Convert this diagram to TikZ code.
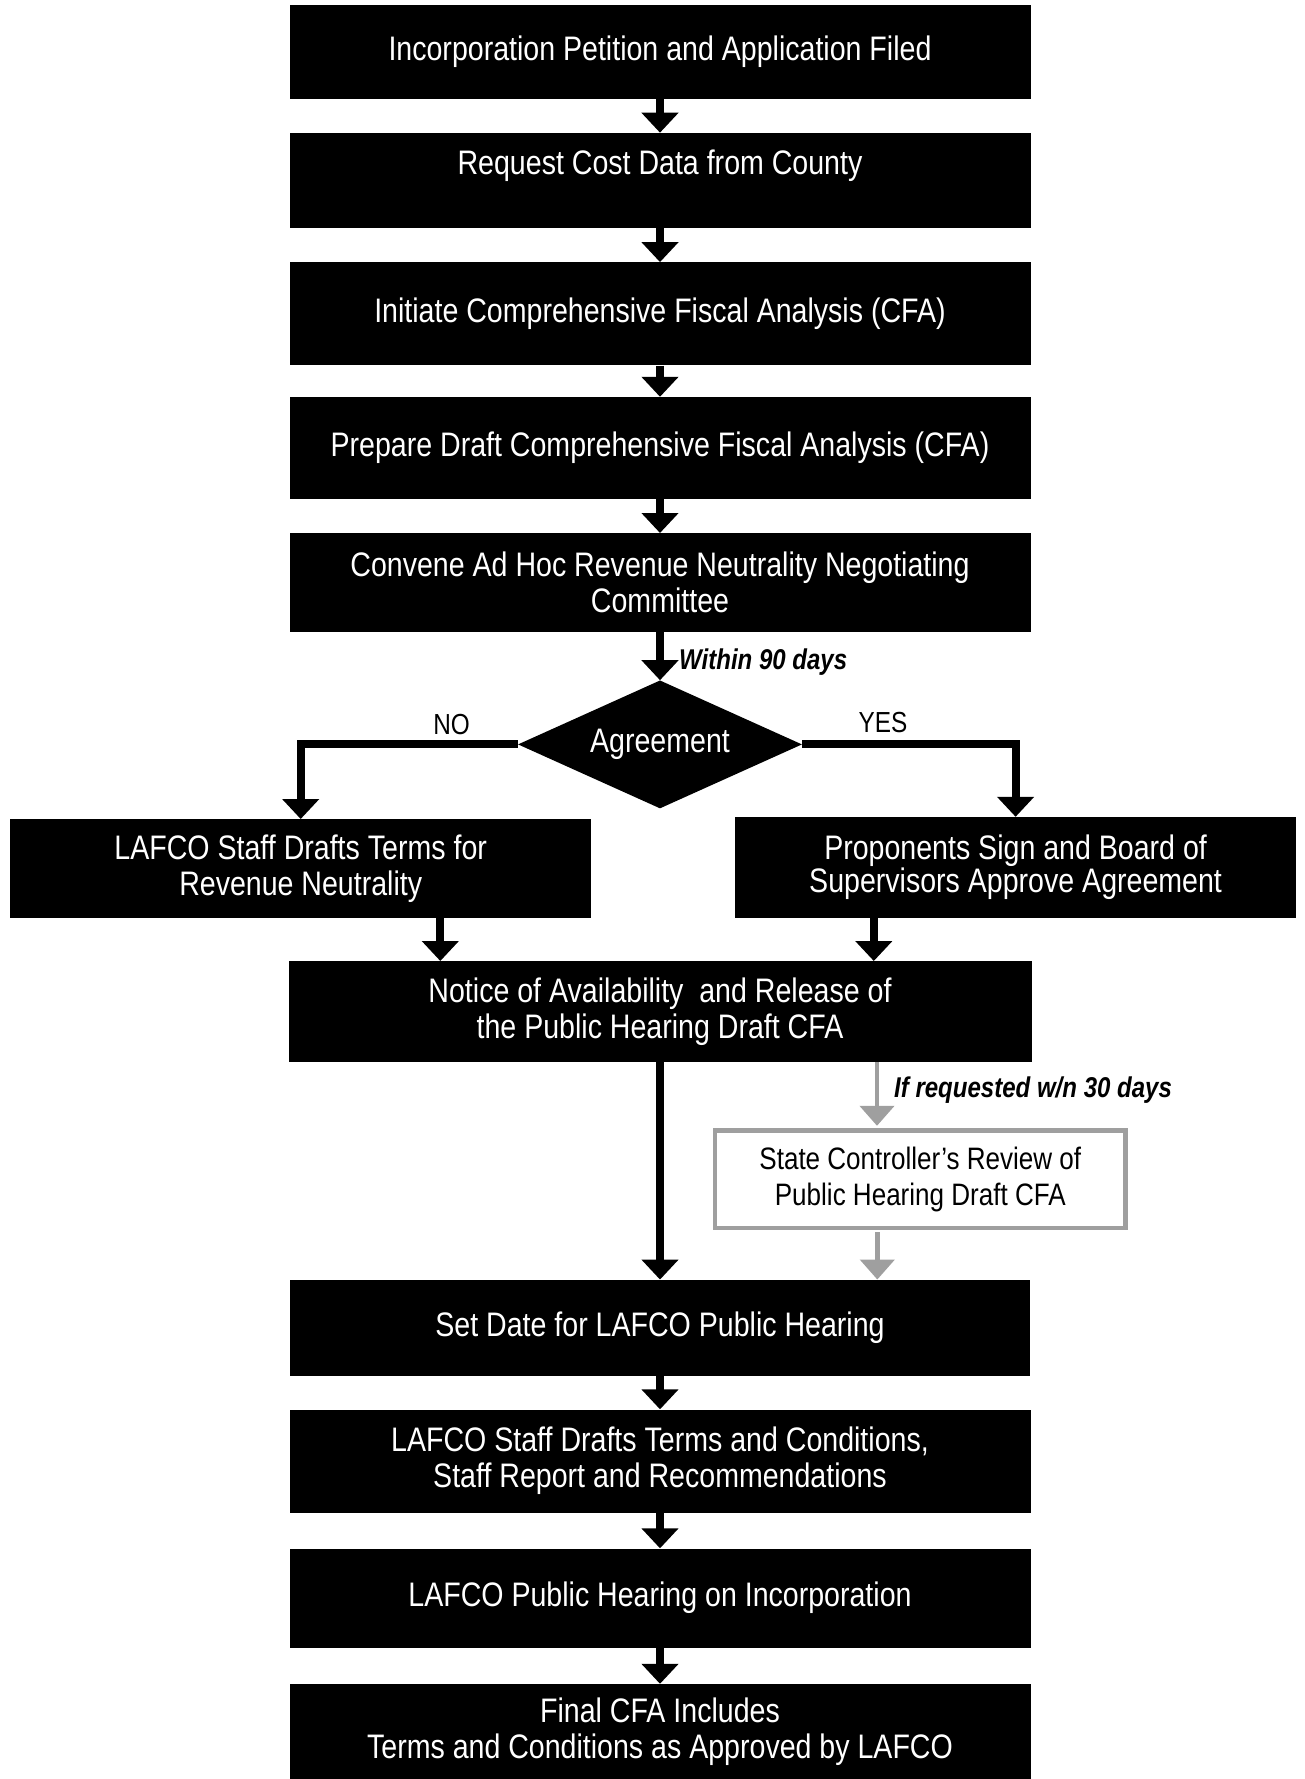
\documentclass[tikz,border=0pt]{standalone}
\usepackage{fontspec}
\setmainfont{Liberation Sans}[FakeStretch=0.84]
\usetikzlibrary{arrows.meta,shapes.geometric}
\begin{document}
\begin{tikzpicture}[x=1pt,y=-1pt,
  stepbox/.style={fill=black,text=white,inner sep=0pt,align=center,minimum width=741pt,font=\fontsize{34}{36}\selectfont},
  reviewbox/.style={draw=gray!75,line width=4.5pt,fill=white,text=black,inner sep=0pt,align=center,font=\fontsize{31}{36}\selectfont},
  flow/.style={line width=8pt,-{Triangle[width=36pt,length=20pt]}},
  grayflow/.style={line width=4.5pt,draw=gray!75,-{Triangle[width=34pt,length=20pt]}},
  note/.style={inner sep=0pt,font=\fontsize{28.6}{30}\selectfont\bfseries\itshape},
  answer/.style={inner sep=0pt,font=\fontsize{29}{30}\selectfont}
]
\useasboundingbox (0,0) rectangle (1305,1779);

\node[stepbox,minimum height=94pt] (filed) at (660,51.6) {Incorporation Petition and Application Filed};
\node[stepbox,minimum height=95pt] (cost) at (660,180.4) {Request Cost Data from County\\~};
\node[stepbox,minimum height=103pt] (initiate) at (660,313.8) {Initiate Comprehensive Fiscal Analysis (CFA)};
\node[stepbox,minimum height=102pt] (draft) at (660,448) {Prepare Draft Comprehensive Fiscal Analysis (CFA)};
\node[stepbox,minimum height=99pt] (convene) at (660,582.7) {Convene Ad Hoc Revenue Neutrality Negotiating\\Committee};
\node[diamond,shape aspect=2.22,fill=black,text=white,inner sep=0pt,minimum width=284pt,minimum height=128pt,font=\fontsize{34}{36}\selectfont] (agree) at (660,744.4) {Agreement};

\node[stepbox,minimum width=581pt,minimum height=99pt] (staffterms) at (300.7,868.7) {LAFCO Staff Drafts Terms for\\Revenue Neutrality};
\node[stepbox,minimum width=561pt,minimum height=101pt,font=\fontsize{34}{31}\selectfont] (approve) at (1015.6,867.5) {Proponents Sign and Board of\\Supervisors Approve Agreement};

\node[stepbox,minimum width=743pt,minimum height=101pt] (notice) at (660,1011.7) {Notice of Availability~ and Release of\\the Public Hearing Draft CFA};
\node[reviewbox,minimum width=410.5pt,minimum height=97.5pt] (review) at (920.3,1179) {State Controller’s Review of\\Public Hearing Draft CFA};

\node[stepbox,minimum width=740pt,minimum height=96.5pt] (hearingdate) at (660,1328) {Set Date for LAFCO Public Hearing};
\node[stepbox,minimum height=103pt] (conditions) at (660,1461) {LAFCO Staff Drafts Terms and Conditions,\\ Staff Report and Recommendations};
\node[stepbox,minimum height=99pt] (hearing) at (660,1598) {LAFCO Public Hearing on Incorporation};
\node[stepbox,minimum height=95pt] (final) at (660,1731.5) {Final CFA Includes\\Terms and Conditions as Approved by LAFCO};

\draw[flow] (filed) -- (cost);
\draw[flow] (cost) -- (initiate);
\draw[flow] (initiate) -- (draft);
\draw[flow] (draft) -- (convene);
\draw[flow] (convene) -- (agree);

\draw[flow] (agree.west) -| (staffterms.north);
\draw[flow] (agree.east) -| (approve.north);

\draw[flow] ([xshift=139.6pt]staffterms.south) -- ([xshift=139.6pt]staffterms.south |- notice.north);
\draw[flow] ([xshift=-141.8pt]approve.south) -- ([xshift=-141.8pt]approve.south |- notice.north);

\draw[flow] (notice) -- (hearingdate);
\draw[grayflow] ([xshift=217pt]notice.south) -- ([xshift=217pt,yshift=2.2pt]notice.south |- review.north);
\draw[grayflow] ([xshift=-43pt,yshift=-2.2pt]review.south) -- ([xshift=-43pt]review.south |- hearingdate.north);

\draw[flow] (hearingdate) -- (conditions);
\draw[flow] (conditions) -- (hearing);
\draw[flow] (hearing) -- (final);

\node[note,anchor=west] (within) at (679,661.6) {Within 90 days};
\node[answer] (no) at (451.6,725) {NO};
\node[answer] (yes) at (883,723) {YES};
\node[note,anchor=west] (requested) at (894,1090.5) {If requested w/n 30 days};

\end{tikzpicture}
\end{document}
